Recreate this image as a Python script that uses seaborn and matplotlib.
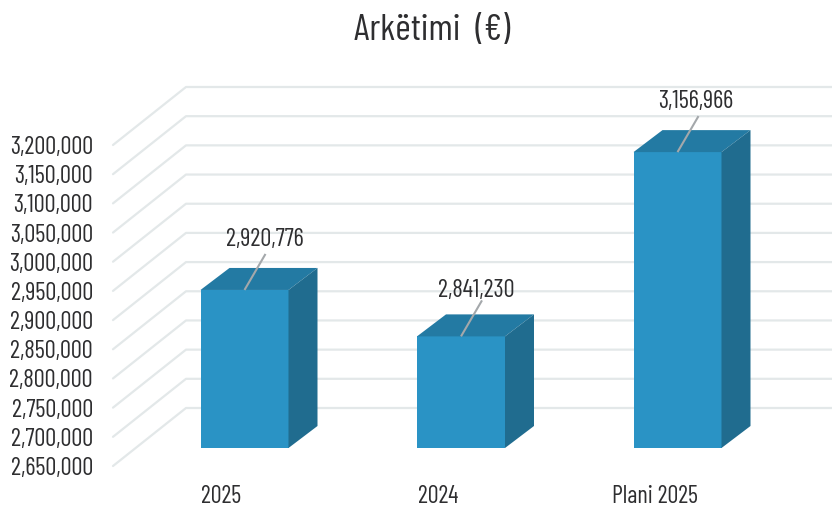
import matplotlib
matplotlib.use("Agg")
import matplotlib.pyplot as plt
import seaborn as sns
from matplotlib.ticker import FuncFormatter

categories = ["2025", "2024", "Plani 2025"]
values = [2920776, 2841230, 3156966]
value_labels = ["2,920,776", "2,841,230", "3,156,966"]
y_ticks = [2650000, 2700000, 2750000, 2800000, 2850000, 2900000,
           2950000, 3000000, 3050000, 3100000, 3150000, 3200000]

W, H = 832, 507
sns.set_theme(style="white")
plt.rcParams["font.family"] = ["Barlow Condensed", "Liberation Sans", "DejaVu Sans"]
INK = "#2e2e30"
GRID = "#e3e8e9"

fig = plt.figure(figsize=(W / 100, H / 100), dpi=100, facecolor="white")
# axes span: front plane of the fake 3D box, in pixels
left_px, y0_px, y1_px = 113, 466, 145
ax = fig.add_axes([left_px / W, 1 - y0_px / H, 1 - left_px / W, (y0_px - y1_px) / H])
ax.patch.set_alpha(0)

cat_px = 216.5                     # pixels per category
val_px = 50000 / 29.18             # value units per pixel
x_of_cat0 = 221.5
xlim = ((left_px - x_of_cat0) / cat_px, (W - x_of_cat0) / cat_px)
base = y_ticks[0]


def dx(px):
    return px / cat_px


def dy(px):
    return px * val_px


sns.barplot(x=categories, y=values, color="#2a93c5", saturation=1, width=88 / cat_px,
            ax=ax, zorder=3, linewidth=0, legend=False)
bars = list(ax.patches)

# back wall and side wall lines
wall_x, wall_y = dx(73), dy(58)
for t in y_ticks:
    ax.plot([xlim[0], xlim[0] + wall_x, xlim[1]], [t, t + wall_y, t + wall_y],
            color=GRID, lw=1.6, zorder=1, clip_on=False, solid_joinstyle="round")

# bars sit part-way into the box; extruded faces
shift_x, shift_y = dx(23), dy(18)
depth_x, depth_y = dx(29), dy(22)
label_offsets = [(20, 50.5), (15.5, 45.5), (18, 50.5)]
for p, txt, (lx, ly) in zip(bars, value_labels, label_offsets):
    v = p.get_height()
    p.set_x(p.get_x() + shift_x)
    p.set_y(base + shift_y)
    p.set_height(v - base)
    p.set_clip_on(False)
    x0, x1 = p.get_x(), p.get_x() + p.get_width()
    y0, y1 = p.get_y(), p.get_y() + p.get_height()
    ax.fill([x0, x1, x1 + depth_x, x0 + depth_x],
            [y1, y1, y1 + depth_y, y1 + depth_y],
            color="#237aa3", lw=0, zorder=3, clip_on=False)
    ax.fill([x1, x1 + depth_x, x1 + depth_x, x1],
            [y0, y0 + depth_y, y1 + depth_y, y1],
            color="#206c8f", lw=0, zorder=3, clip_on=False)
    xc = (x0 + x1) / 2
    ax.plot([xc, xc + dx(21)], [y1, y1 + dy(36)], color="#a4a8ab", lw=1.5, zorder=5,
            clip_on=False, solid_capstyle="butt")
    ax.text(xc + dx(lx), y1 + dy(ly), txt, ha="center", va="center", fontsize=17.8,
            color=INK, zorder=6, clip_on=False)

ax.set_xlim(*xlim)
ax.set_ylim(y_ticks[0], y_ticks[-1])
ax.set_yticks(y_ticks)
ax.yaxis.set_major_formatter(FuncFormatter(lambda v, _: f"{int(v):,}"))
ax.set_xlabel("")
ax.set_ylabel("")
ax.tick_params(axis="y", length=0, pad=14.5, labelsize=17.8, labelcolor=INK)
ax.tick_params(axis="x", length=0, pad=14, labelsize=17.5, labelcolor=INK)
ax.grid(False)
sns.despine(ax=ax, left=True, bottom=True)

fig.text(432 / W, 1 - 30 / H, "Arkëtimi  (€)", ha="center", va="center",
         fontsize=27, color=INK)

fig.savefig("out.png", dpi=100, facecolor="white")
